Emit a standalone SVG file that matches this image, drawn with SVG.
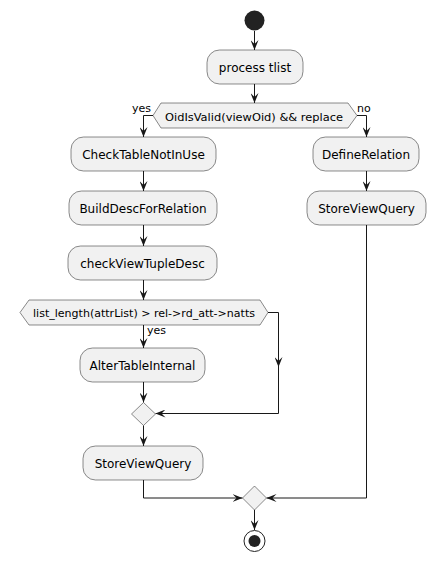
<svg xmlns="http://www.w3.org/2000/svg" width="435" height="562" viewBox="0 0 435 562">
<defs>
<style>
.box{fill:#F1F1F1;stroke:#181818;stroke-width:0.5}
.t{font-family:"DejaVu Sans",sans-serif;font-size:12px;fill:#000;text-anchor:middle}
.dt{font-family:"DejaVu Sans",sans-serif;font-size:11.2px;fill:#000}
.lb{font-family:"DejaVu Sans",sans-serif;font-size:11px;fill:#000}
.ln{fill:none;stroke:#181818;stroke-width:1}
</style>
<marker id="ah" viewBox="0 0 10 8" refX="10" refY="4" markerWidth="10" markerHeight="8" markerUnits="userSpaceOnUse" orient="auto">
<path d="M0,0 L10,4 L0,8 L4,4 Z" fill="#181818"/>
</marker>
</defs>
<rect width="435" height="562" fill="#FFFFFF"/>

<g id="connectors">
<path class="ln" d="M254.5,31 L254.5,50" marker-end="url(#ah)"/>
<path class="ln" d="M254.5,84 L254.5,103" marker-end="url(#ah)"/>
<path class="ln" d="M153,115.5 L143.5,115.5 L143.5,137" marker-end="url(#ah)"/>
<path class="ln" d="M357,115.5 L366.5,115.5 L366.5,137" marker-end="url(#ah)"/>
<path class="ln" d="M143.5,171 L143.5,191" marker-end="url(#ah)"/>
<path class="ln" d="M143.5,225 L143.5,246" marker-end="url(#ah)"/>
<path class="ln" d="M143.5,280 L143.5,300" marker-end="url(#ah)"/>
<path class="ln" d="M143.5,325 L143.5,348" marker-end="url(#ah)"/>
<path class="ln" d="M143.5,382 L143.5,402.5" marker-end="url(#ah)"/>
<path class="ln" d="M268,312.5 L278.5,312.5 L278.5,367" marker-end="url(#ah)"/>
<path class="ln" d="M278.5,366 L278.5,413.5 L155.5,413.5" marker-end="url(#ah)"/>
<path class="ln" d="M143.5,425.5 L143.5,446" marker-end="url(#ah)"/>
<path class="ln" d="M143.5,480 L143.5,498 L242.5,498" marker-end="url(#ah)"/>
<path class="ln" d="M366.5,171 L366.5,191" marker-end="url(#ah)"/>
<path class="ln" d="M366.5,225 L366.5,498 L266.5,498" marker-end="url(#ah)"/>
<path class="ln" d="M254.5,510 L254.5,530" marker-end="url(#ah)"/>
<text class="lb" x="132" y="112">yes</text>
<text class="lb" x="357" y="112">no</text>
<text class="lb" x="147" y="334">yes</text>
</g>

<g id="start"><circle cx="254.5" cy="20.5" r="10" fill="#222222"/></g>

<g id="process_tlist">
<rect class="box" x="207" y="50" width="96" height="34" rx="12.5"/>
<text class="t" x="255" y="72">process tlist</text>
</g>

<g id="decision1">
<polygon class="box" points="153,115.5 161,103 348,103 357,115.5 348,128 161,128"/>
<text class="dt" x="165" y="120.5" textLength="178" lengthAdjust="spacingAndGlyphs">OidIsValid(viewOid) &amp;&amp; replace</text>
</g>

<g id="CheckTableNotInUse">
<rect class="box" x="71" y="137" width="145" height="34" rx="12.5"/>
<text class="t" x="143.5" y="159">CheckTableNotInUse</text>
</g>

<g id="BuildDescForRelation">
<rect class="box" x="69" y="191" width="148" height="34" rx="12.5"/>
<text class="t" x="143" y="213">BuildDescForRelation</text>
</g>

<g id="checkViewTupleDesc">
<rect class="box" x="68" y="246" width="149" height="34" rx="12.5"/>
<text class="t" x="142.5" y="268">checkViewTupleDesc</text>
</g>

<g id="decision2">
<polygon class="box" points="20,312.5 29,300 260,300 268,312.5 260,325 29,325"/>
<text class="dt" x="33" y="316.5" textLength="222" lengthAdjust="spacingAndGlyphs">list_length(attrList) &gt; rel-&gt;rd_att-&gt;natts</text>
</g>

<g id="AlterTableInternal">
<rect class="box" x="80" y="348" width="125" height="34" rx="12.5"/>
<text class="t" x="142.5" y="370">AlterTableInternal</text>
</g>

<g id="merge1">
<polygon class="box" points="143.5,402.5 155.5,414 143.5,425.5 131.5,414"/>
</g>

<g id="StoreViewQuery_left">
<rect class="box" x="83" y="446" width="120" height="34" rx="12.5"/>
<text class="t" x="143" y="468">StoreViewQuery</text>
</g>

<g id="DefineRelation">
<rect class="box" x="313" y="137" width="106" height="34" rx="12.5"/>
<text class="t" x="366" y="159">DefineRelation</text>
</g>

<g id="StoreViewQuery_right">
<rect class="box" x="307" y="191" width="119" height="34" rx="12.5"/>
<text class="t" x="366.5" y="213">StoreViewQuery</text>
</g>

<g id="merge2">
<polygon class="box" points="254.5,486 266.5,498 254.5,510 242.5,498"/>
</g>

<g id="end">
<circle cx="254.5" cy="541" r="10.5" fill="none" stroke="#222222" stroke-width="1"/>
<circle cx="254.5" cy="541" r="6" fill="#222222"/>
</g>
</svg>
